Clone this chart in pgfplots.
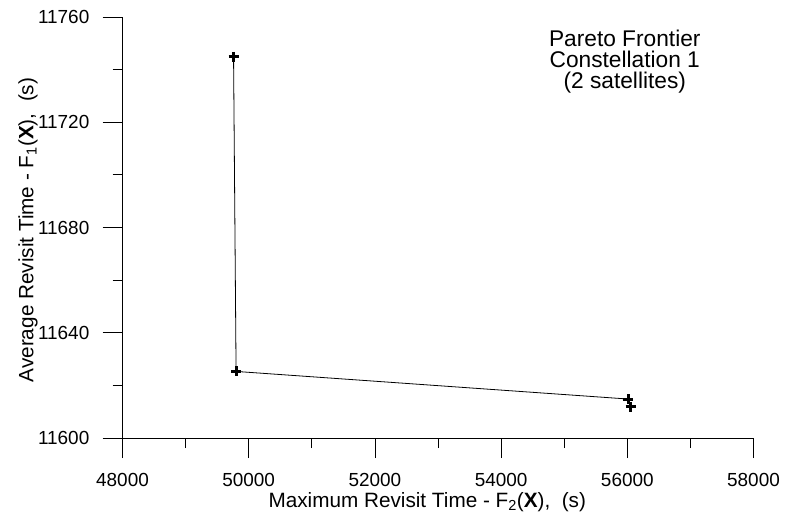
\documentclass[border=0pt]{standalone}
\usepackage{fontspec}
\setmainfont{Liberation Sans}
\usepackage{pgfplots}
\pgfplotsset{compat=1.18}
\newcommand\tickfont{\fontsize{19}{21}\selectfont}
\begin{document}
\begin{tikzpicture}
\begin{axis}[
  at={(122.5bp,77bp)}, anchor=south west,
  scale only axis, width=631bp, height=421bp,
  xmin=48000, xmax=58000, ymin=11600, ymax=11760,
  axis x line*=bottom, axis y line*=left,
  axis line style={-, line width=0.8bp},
  scaled ticks=false,
  xtick={48000,50000,52000,54000,56000,58000},
  xticklabels={48000,50000,52000,54000,56000,58000},
  ytick={11600,11640,11680,11720,11760},
  yticklabels={11600,11640,11680,11720,11760},
  minor x tick num=1, minor y tick num=1,
  tick align=outside,
  major tick length=20bp, minor tick length=10bp,
  every tick/.style={black, line width=0.8bp},
  every tick label/.append style={font=\tickfont, text=black, inner sep=0pt},
  yticklabel style={anchor=east, xshift=-13bp},
  xticklabel style={anchor=north, yshift=-15bp},
  label style={font=\fontsize{20.8}{23}\selectfont},
  xlabel={Maximum Revisit Time - F\textsubscript{2}(\textbf{X}),\ \ (s)},
  ylabel={Average Revisit Time - F\textsubscript{1}(\textbf{X}),\ \ (s)},
  xlabel style={at={(axis description cs:0.483,0)}, anchor=base, yshift=-69bp},
  ylabel style={at={(axis description cs:0,0.494)}, rotate=0, anchor=base, yshift=89bp},
  clip=false,
]
\addplot[black, line width=0.8bp, mark=+, mark size=5bp,
  mark options={line width=3bp}]
  coordinates {(49760,11744.8) (49800,11625.3) (56016,11614.8) (56054,11611.8)};
\node[anchor=base, font=\fontsize{22.8}{24}\selectfont] at (axis description cs:0.796,0.929) {Pareto Frontier};
\node[anchor=base, font=\fontsize{22.8}{24}\selectfont] at (axis description cs:0.796,0.879) {Constellation 1};
\node[anchor=base, font=\fontsize{22.8}{24}\selectfont] at (axis description cs:0.796,0.829) {(2 satellites)};
\end{axis}
\pgfresetboundingbox
\path[use as bounding box] (0,0) rectangle (785bp,515bp);
\end{tikzpicture}
\end{document}
